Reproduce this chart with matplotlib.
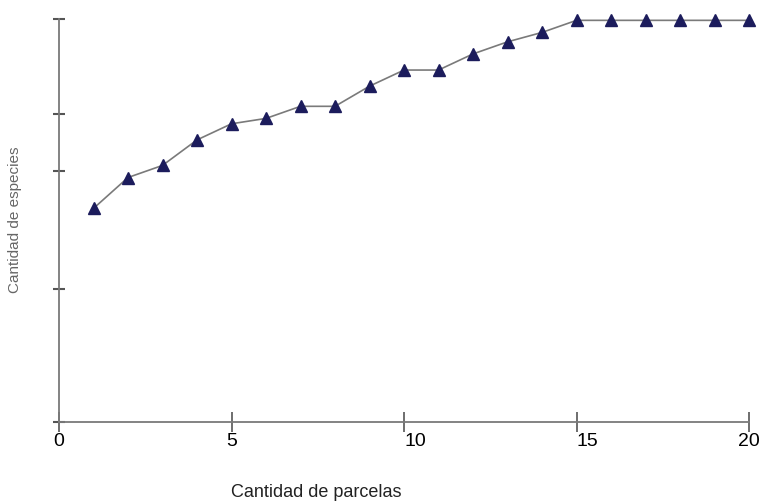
import matplotlib.pyplot as plt

# species accumulation data
parcelas = [1, 2, 3, 4, 5, 6, 7, 8, 9, 10, 11, 12, 13, 14, 15, 16, 17, 18, 19, 20]
especies = [15.9, 18.2, 19.1, 21.0, 22.2, 22.6, 23.5, 23.5, 25.0, 26.2,
            26.2, 27.4, 28.3, 29.0, 29.9, 29.9, 29.9, 29.9, 29.9, 29.9]
x_ticks = [0, 5, 10, 15, 20]
x_tick_labels = ['0', '5', '10', '15', '20']
y_ticks = [0, 9.9, 18.7, 22.9, 30]

fig = plt.figure(figsize=(7.61, 5.02), dpi=100)
ax = fig.add_axes([59 / 761, 79 / 502, 690 / 761, 403 / 502])

ax.plot(parcelas, especies, color='#7a7a7a', linewidth=1.2, linestyle='-',
        marker='^', markersize=8, markerfacecolor='#1c1c5c',
        markeredgecolor='#1c1c5c', zorder=3, clip_on=False)

ax.set_xlim(0, 20)
ax.set_ylim(0, 30)
ax.spines['top'].set_visible(False)
ax.spines['right'].set_visible(False)
for side in ['left', 'bottom']:
    ax.spines[side].set_color('#7a7a7a')
    ax.spines[side].set_linewidth(1.3)

ax.set_xticks(x_ticks)
ax.set_xticklabels(x_tick_labels, fontsize=14, family='Liberation Sans')
ax.tick_params(axis='x', direction='inout', length=14, width=1.2,
               color='#555555', pad=0)
ax.set_yticks(y_ticks)
ax.set_yticklabels([])
ax.tick_params(axis='y', direction='inout', length=8, width=1.5,
               color='#555555')
# labels for 10 and 15 sit a little to the right of their ticks
for lbl in ax.get_xticklabels()[2:4]:
    lbl.set_horizontalalignment('left')

fig.text(316 / 761, 1 - 493 / 502, 'Cantidad de parcelas', fontsize=13,
         family='Liberation Sans', ha='center', va='center', color='#222222')
fig.text(15 / 761, 1 - 220 / 502, 'Cantidad de especies', fontsize=11,
         family='Liberation Sans', ha='center', va='center',
         rotation=90, color='#666666')

fig.savefig('out.png', dpi=100)
